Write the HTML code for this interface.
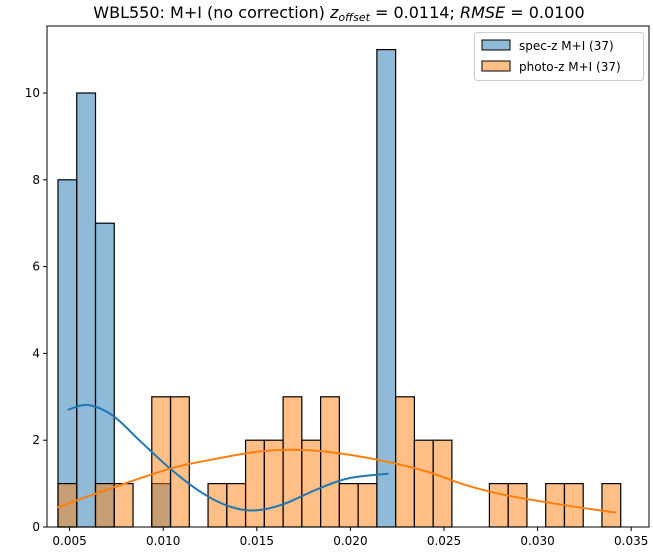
<!DOCTYPE html>
<html><head><meta charset="utf-8"><style>
body{margin:0;background:#fff;}
svg{display:block;font-family:"DejaVu Sans","Liberation Sans",sans-serif;}
</style></head><body>
<svg id="chart" width="653" height="552"></svg>
<script>
const binStart = 0.00438;
const binWidth = 0.001002;
const specCounts = [8,10,7,0,0,1,0,0,0,0,0,0,0,0,0,0,0,11,0,0,0,0,0,0,0,0,0,0,0,0];
const photoCounts = [1,0,1,1,0,3,3,0,1,1,2,2,3,2,3,1,1,0,3,2,2,0,0,1,1,0,1,1,0,1];
const specKdeX = [0.0049,0.00599,0.00733,0.00877,0.01041,0.01206,0.0135,0.01484,0.01638,0.01823,0.01988,0.02204];
const specKdeY = [2.70,2.81,2.56,1.98,1.33,0.79,0.48,0.38,0.52,0.87,1.12,1.23];
const photoKdeX = [0.00434,0.00733,0.01041,0.01268,0.01494,0.01679,0.01864,0.02132,0.02399,0.02605,0.02811,0.03119,0.03418];
const photoKdeY = [0.45,0.91,1.35,1.56,1.73,1.78,1.74,1.56,1.29,0.98,0.75,0.52,0.33];
const xTicks = [0.005,0.010,0.015,0.020,0.025,0.030,0.035];
const yTicks = [0,2,4,6,8,10];

const L=47,R=649,T=26,B=527;
const xs = v => 69.6 + (v-0.005)*18720;
const ys = v => B - v*43.4;
const svg=document.getElementById('chart');
const NS='http://www.w3.org/2000/svg';
function mk(tag,attrs,parent){const e=document.createElementNS(NS,tag);for(const k in attrs)e.setAttribute(k,attrs[k]);(parent||svg).appendChild(e);return e;}

mk('rect',{x:L,y:T,width:R-L,height:B-T,fill:'#fff'});
const gS=mk('g',{});


specCounts.forEach((c,i)=>{if(!c)return;
 const x0=xs(binStart+i*binWidth),x1=xs(binStart+(i+1)*binWidth);
 const r=mk('rect',{x:x0,y:ys(c),width:x1-x0,height:ys(0)-ys(c),fill:'#1f77b4','fill-opacity':0.5,stroke:'#000','stroke-width':1.2},gS);
 
 
});
const gP=mk('g',{});


photoCounts.forEach((c,i)=>{if(!c)return;
 const x0=xs(binStart+i*binWidth),x1=xs(binStart+(i+1)*binWidth);
 const r=mk('rect',{x:x0,y:ys(c),width:x1-x0,height:ys(0)-ys(c),fill:'#ff7f0e','fill-opacity':0.5,stroke:'#000','stroke-width':1.2},gP);
 
 
});
function curve(X,Y,color,name){
 let d='';
 for(let i=0;i<X.length;i++){
  const x=xs(X[i]),y=ys(Y[i]);
  if(i===0){d+='M'+x+','+y;continue;}
  const x0=xs(X[i-1]),y0=ys(Y[i-1]);
  const xp=i>1?xs(X[i-2]):x0,yp=i>1?ys(Y[i-2]):y0;
  const xn=i<X.length-1?xs(X[i+1]):x,yn=i<X.length-1?ys(Y[i+1]):y;
  d+=` C${x0+(x-xp)/6},${y0+(y-yp)/6} ${x-(xn-x0)/6},${y-(yn-y0)/6} ${x},${y}`;
 }
 const p=mk('path',{d:d,fill:'none',stroke:color,'stroke-width':2});
 
 
}
curve(specKdeX,specKdeY,'#1f77b4','spec-z-kde-line');
curve(photoKdeX,photoKdeY,'#ff7f0e','photo-z-kde-line');

const frame=mk('rect',{x:L,y:T,width:R-L,height:B-T,fill:'none',stroke:'#000','stroke-width':1});



xTicks.forEach(v=>{const x=xs(v);
 mk('line',{x1:x,x2:x,y1:B,y2:B+4,stroke:'#000'});
 const t=mk('text',{x:x,y:B+18,'text-anchor':'middle','font-size':12});t.textContent=v.toFixed(3);
 
 
});
yTicks.forEach(v=>{const y=ys(v);
 mk('line',{x1:L-4,x2:L,y1:y,y2:y,stroke:'#000'});
 const t=mk('text',{x:L-7,y:y+4,'text-anchor':'end','font-size':12});t.textContent=v;
 
 
});
</script>
<svg style="position:absolute;left:0;top:0" width="653" height="552">
 <text x="339" y="18" text-anchor="middle" font-size="16" font-family="DejaVu Sans, sans-serif">WBL550: M+I (no correction) <tspan font-style="italic">z</tspan><tspan font-style="italic" font-size="11" dy="3">offset</tspan><tspan dy="-3"> = 0.0114; </tspan><tspan font-style="italic">RMSE</tspan> = 0.0100</text>
 <g>
  <rect x="474.5" y="32.5" width="169" height="48" rx="3" fill="#fff" fill-opacity="0.8" stroke="#ccc"/>
  <rect x="482" y="40" width="28" height="10" fill="#8fbbd9" stroke="#000"/>
  <text x="519" y="50" font-size="12" font-family="DejaVu Sans, sans-serif">spec-z M+I (37)</text>
  <rect x="482" y="61" width="28" height="10" fill="#ffbf86" stroke="#000"/>
  <text x="519" y="71" font-size="12" font-family="DejaVu Sans, sans-serif">photo-z M+I (37)</text>
 </g>
</svg>
</body></html>
